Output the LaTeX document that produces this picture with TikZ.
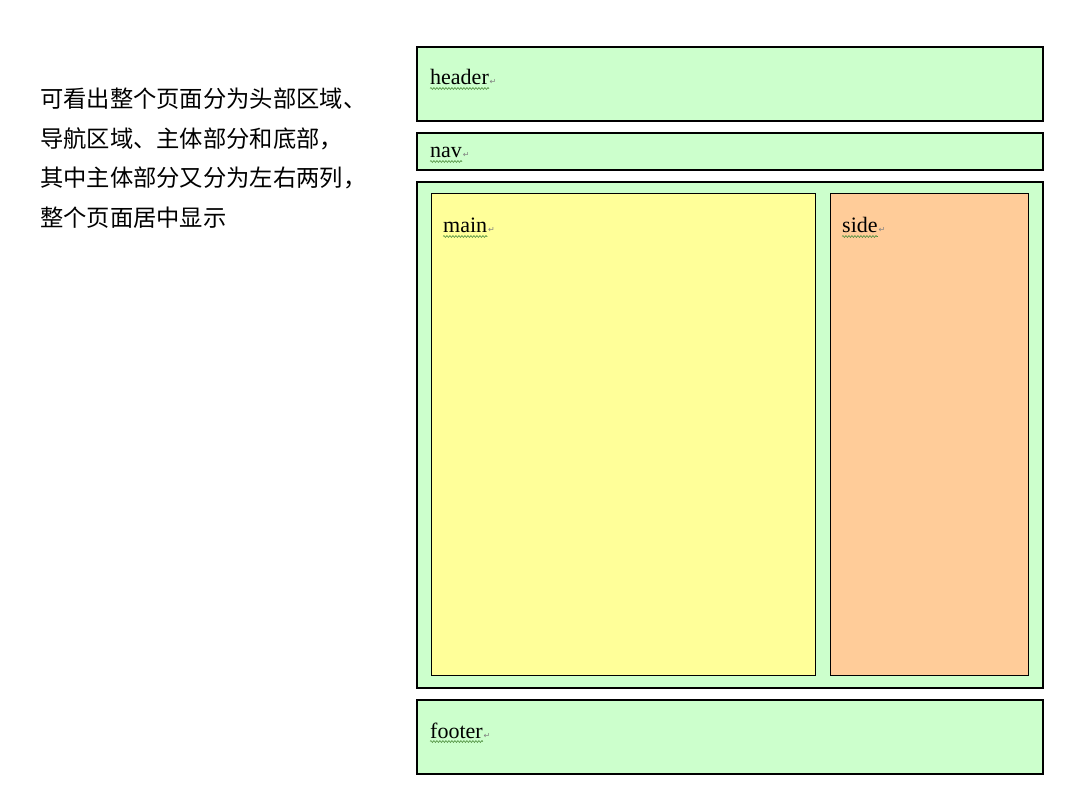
\documentclass[tikz,border=0pt]{standalone}
\usepackage{fontspec}
\setmainfont{Liberation Serif}
\newfontfamily\cjk{Noto Sans CJK SC}
\newfontfamily\symf{DejaVu Sans}
\usetikzlibrary{decorations.pathmorphing}
\definecolor{boxgreen}{HTML}{CCFFCC}
\definecolor{boxyellow}{HTML}{FFFF99}
\definecolor{boxorange}{HTML}{FFCC99}
\definecolor{wavycol}{HTML}{4C8C3C}
\tikzset{
  outerbox/.style={draw=black, line width=1.6pt, fill=boxgreen},
  innerbox/.style={draw=black, line width=1pt},
  label/.style={anchor=base west, inner sep=0pt, font=\fontsize{22}{26}\selectfont},
  retmark/.style={anchor=base west, inner sep=0.5pt, text=gray, font=\symf\fontsize{8}{9}\selectfont},
  wavy/.style={draw=wavycol, line width=0.6pt, decorate, decoration={snake, amplitude=0.9pt, segment length=3pt}},
  desc/.style={anchor=north west, inner sep=0pt, align=left, font=\cjk\fontsize{23.3}{39.4}\selectfont}
}
\begin{document}
\begin{tikzpicture}[x=1pt,y=-1pt]
\useasboundingbox[fill=white] (0,0) rectangle (1080,810);
% boxes
\draw[outerbox] (417,47) rectangle (1043,121);
\draw[outerbox] (417,133) rectangle (1043,170);
\draw[outerbox] (417,182) rectangle (1043,688);
\draw[innerbox, fill=boxyellow] (431,194) rectangle (815,675);
\draw[innerbox, fill=boxorange] (830,194) rectangle (1028,675);
\draw[outerbox] (417,700) rectangle (1043,774);
% labels
\node[label] (hdr) at (430,85) {header};
\node[retmark] (hdrr) at (hdr.base east) {↵};
\draw[wavy] ([yshift=-3.5pt]hdr.base west) -- ([yshift=-3.5pt]hdr.base east);
\node[label] (nav) at (430,158) {nav};
\node[retmark] (navr) at (nav.base east) {↵};
\draw[wavy] ([yshift=-3.5pt]nav.base west) -- ([yshift=-3.5pt]nav.base east);
\node[label] (mn) at (443,233) {main};
\node[retmark] (mnr) at (mn.base east) {↵};
\draw[wavy] ([yshift=-3.5pt]mn.base west) -- ([yshift=-3.5pt]mn.base east);
\node[label] (sd) at (842,233) {side};
\node[retmark] (sdr) at (sd.base east) {↵};
\draw[wavy] ([yshift=-3.5pt]sd.base west) -- ([yshift=-3.5pt]sd.base east);
\node[label] (ft) at (430,738) {footer};
\node[retmark] (ftr) at (ft.base east) {↵};
\draw[wavy] ([yshift=-3.5pt]ft.base west) -- ([yshift=-3.5pt]ft.base east);
% description
\node[desc] (txt) at (40,88) {可看出整个页面分为头部区域、\\导航区域、主体部分和底部，\\其中主体部分又分为左右两列，\\整个页面居中显示};
\end{tikzpicture}
\end{document}
